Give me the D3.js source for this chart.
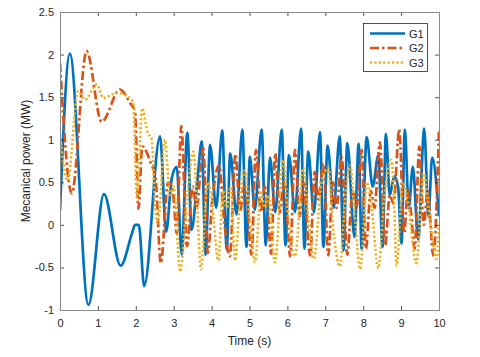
<!DOCTYPE html>
<html lang="en">
<head>
<meta charset="utf-8">
<script src="https://cdn.jsdelivr.net/npm/d3@7"></script>
<style>
  body { margin: 0; background: #fff; }
  .axis text { font-family: "Liberation Sans", Arial, sans-serif; font-size: 11px; fill: #262626; }
  .axis line { stroke: #262626; stroke-width: 0.8; }
  .axis path { display: none; }
</style>
</head>
<body>
<script>
// [time (s), power (MW)], peaks and troughs
const g1 = [[0,0.17],[0.26,2.01],[0.75,-0.94],[1.16,0.36],[1.6,-0.48],[1.9,-0.1],[1.98,0],[2.08,0],[2.22,-0.72],
  [2.64,1.04],[2.8,-0.08],[2.95,0.55],[3.08,0.68],[3.21,-0.35],[3.36,1.08],[3.47,-0.06],[3.62,0.5],[3.74,0.98],
  [3.84,-0.35],[3.96,0.94],[4.12,0.2],[4.28,1.11],[4.4,-0.29],[4.49,0.84],[4.66,0.12],[4.81,1.12],[4.92,-0.26],
  [5.01,0.8],[5.14,0.18],[5.32,1.12],[5.43,-0.24],[5.54,0.79],[5.68,0.15],[5.85,1.12],[5.95,-0.24],[6.04,0.82],
  [6.2,0.15],[6.36,1.13],[6.45,-0.28],[6.55,0.86],[6.7,0.15],[6.86,1.09],[6.95,-0.26],[7.06,0.93],[7.22,0.2],
  [7.38,1.04],[7.48,-0.3],[7.58,0.96],[7.77,-0.14],[7.88,0.95],[7.96,-0.29],[8.09,1.03],[8.25,0.45],[8.4,0.82],
  [8.51,-0.26],[8.6,1.07],[8.7,0.35],[8.82,0.57],[8.92,0.45],[9.01,-0.22],[9.1,1.12],[9.2,0.2],[9.31,0.68],
  [9.45,-0.17],[9.61,1.13],[9.72,0.1],[9.82,0.79],[10,0.1]];

const g2 = [[0,1.9],[0.31,0.37],[0.7,2.04],[1.1,1.21],[1.58,1.59],[1.85,1.43],[1.98,1.33],[2.07,0.19],[2.17,0.92],
  [2.4,0.72],[2.52,0.55],[2.66,-0.45],[2.85,0.5],[2.97,0.42],[3.08,-0.1],[3.2,1.16],[3.35,-0.25],[3.5,0.45],
  [3.6,0.2],[3.78,0.9],[3.9,-0.33],[4.02,0.3],[4.2,0.7],[4.32,0.1],[4.48,-0.37],[4.63,0.83],[4.75,0.15],[4.85,0.45],
  [4.95,0.2],[5.05,-0.35],[5.17,0.88],[5.3,0.15],[5.4,0.45],[5.48,0.2],[5.57,-0.34],[5.68,0.84],[5.8,0.15],
  [5.9,0.5],[5.98,0.2],[6.07,-0.37],[6.2,0.88],[6.32,0.1],[6.42,0.5],[6.6,-0.36],[6.72,0.62],[6.82,0.3],
  [6.95,0.72],[7.08,-0.36],[7.2,0.5],[7.3,0.2],[7.43,0.8],[7.58,-0.35],[7.72,0.4],[7.82,0.2],[7.96,0.88],
  [8.07,-0.28],[8.2,0.4],[8.3,0.2],[8.44,0.97],[8.58,-0.24],[8.7,0.35],[8.8,0.25],[8.95,1.12],[9.08,-0.1],
  [9.18,0.4],[9.25,0.2],[9.36,-0.28],[9.48,0.92],[9.6,0.0],[9.7,0.4],[9.85,-0.36],[10,1.12]];

const g3 = [[0,1.07],[0.2,0.52],[0.48,1.57],[0.66,1.47],[0.97,1.65],[1.14,1.49],[1.5,1.55],[1.93,1.45],[2.03,0.32],
  [2.17,1.37],[2.3,1.1],[2.42,1.0],[2.5,0.3],[2.58,0.02],[2.77,1.0],[2.9,0.35],[3.0,0.45],[3.17,-0.55],[3.35,0.3],
  [3.52,0.86],[3.62,0.2],[3.72,-0.52],[3.9,0.5],[4.0,0.3],[4.18,-0.42],[4.3,0.4],[4.4,0.2],[4.5,0.45],[4.62,-0.42],
  [4.75,0.3],[4.88,0.64],[5.0,0.1],[5.15,-0.44],[5.3,0.4],[5.4,0.2],[5.5,0.35],[5.67,-0.44],[5.89,0.76],[6.0,0.2],
  [6.2,-0.37],[6.42,0.67],[6.55,0.1],[6.7,-0.4],[6.9,0.5],[7.08,0.67],[7.2,0.0],[7.39,-0.49],[7.52,0.3],[7.65,0.7],
  [7.78,0.1],[7.92,-0.52],[8.1,0.5],[8.2,0.3],[8.4,-0.51],[8.55,0.3],[8.75,0.76],[8.82,0.2],[8.88,-0.48],[9.05,0.5],
  [9.2,0.2],[9.4,-0.45],[9.6,0.6],[9.75,0.1],[9.94,-0.4],[10,0.0]];

const seriesNames = ["G1", "G2", "G3"];
const xTicks = [0, 1, 2, 3, 4, 5, 6, 7, 8, 9, 10];
const yTicks = [-1, -0.5, 0, 0.5, 1, 1.5, 2, 2.5];

let w = 480, h = 357;
let padL = 60, padR = 439, padT = 12, padB = 310;

let svg = d3.select("body").append("svg")
    .attr("width", w)
    .attr("height", h)
    .style("font-family", "'Liberation Sans', Arial, sans-serif");

let xScale = d3.scaleLinear().domain([0, 10]).range([padL, padR]);
let yScale = d3.scaleLinear().domain([-1, 2.5]).range([padB, padT]);

// styles for the three lines (MATLAB default colours)
let styles = [
  { color: "#0072BD", dash: null, width: 2.7 },
  { color: "#D95319", dash: "9,3,2.5,3", width: 2.7 },
  { color: "#EDB120", dash: "2.2,2.2", width: 2.6 }
];

svg.append("defs").append("clipPath").attr("id", "clip")
  .append("rect")
  .attr("x", padL).attr("y", padT)
  .attr("width", padR - padL).attr("height", padB - padT);

let line = d3.line()
    .x(d => xScale(d[0]))
    .y(d => yScale(d[1]))
    .curve(d3.curveMonotoneX);

let plot = svg.append("g").attr("clip-path", "url(#clip)");
[g1, g2, g3].forEach((data, i) => {
  plot.append("path")
    .datum(data)
    .attr("d", line)
    .attr("fill", "none")
    .attr("stroke", styles[i].color)
    .attr("stroke-width", styles[i].width)
    .attr("stroke-dasharray", styles[i].dash)
    .attr("stroke-linejoin", "round");
});

// axes, ticks pointing inward
let fmt = d => String(d);
svg.append("g").attr("class", "axis")
  .attr("transform", "translate(0," + padB + ")")
  .call(d3.axisBottom(xScale).tickValues(xTicks).tickFormat(fmt).tickSizeInner(-4).tickSizeOuter(0).tickPadding(9));
svg.append("g").attr("class", "axis")
  .attr("transform", "translate(0," + padT + ")")
  .call(d3.axisTop(xScale).tickValues(xTicks).tickFormat("").tickSizeInner(-4).tickSizeOuter(0));
svg.append("g").attr("class", "axis")
  .attr("transform", "translate(" + padL + ",0)")
  .call(d3.axisLeft(yScale).tickValues(yTicks).tickFormat(fmt).tickSizeInner(-4).tickSizeOuter(0).tickPadding(6));
svg.append("g").attr("class", "axis")
  .attr("transform", "translate(" + padR + ",0)")
  .call(d3.axisRight(yScale).tickValues(yTicks).tickFormat("").tickSizeInner(-4).tickSizeOuter(0));

svg.append("rect")
  .attr("x", padL + 0.5).attr("y", padT + 0.5)
  .attr("width", padR - padL).attr("height", padB - padT)
  .attr("fill", "none")
  .attr("stroke", "#8a8a8a")
  .attr("stroke-width", 1);

// axis titles
svg.append("text")
  .attr("x", (padL + padR) / 2)
  .attr("y", 345)
  .attr("text-anchor", "middle")
  .attr("font-size", "12px")
  .attr("fill", "#262626")
  .text("Time (s)");

svg.append("text")
  .attr("transform", "translate(30," + (padT + padB) / 2 + ") rotate(-90)")
  .attr("text-anchor", "middle")
  .attr("font-size", "12px")
  .attr("fill", "#262626")
  .text("Mecanical power (MW)");

// legend
let legend = svg.append("g");
legend.append("rect")
  .attr("x", 363.5).attr("y", 23.5)
  .attr("width", 64).attr("height", 48)
  .attr("fill", "#fff")
  .attr("stroke", "#262626")
  .attr("stroke-width", 0.8);

seriesNames.forEach((name, i) => {
  let yy = 33.5 + i * 14.5;
  legend.append("line")
    .attr("x1", 370).attr("x2", 405)
    .attr("y1", yy).attr("y2", yy)
    .attr("stroke", styles[i].color)
    .attr("stroke-width", styles[i].width)
    .attr("stroke-dasharray", styles[i].dash);
  legend.append("text")
    .attr("x", 409)
    .attr("y", yy + 4)
    .attr("font-size", "11px")
    .attr("fill", "#262626")
    .text(name);
});
</script>
</body>
</html>
